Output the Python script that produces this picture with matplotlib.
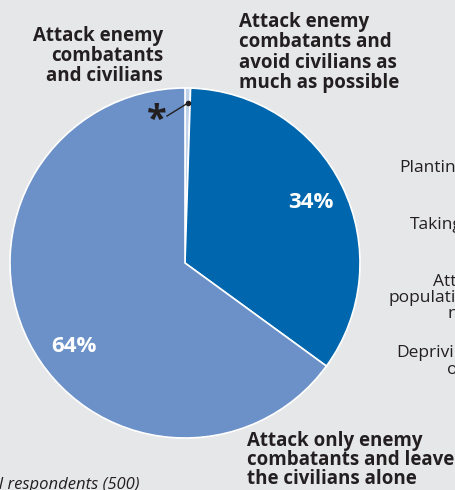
import matplotlib.pyplot as plt

# --- data ---
labels = ["Attack enemy\ncombatants\nand civilians",
          "Attack enemy\ncombatants and\navoid civilians as\nmuch as possible",
          "Attack only enemy\ncombatants and leave\nthe civilians alone"]
values = [0.5, 34, 64]
pct_text = ["", "34%", "64%"]
colors = ["#c0d1ea", "#0066ad", "#6b91c8"]

# cut-off labels from the neighbouring chart
side_labels = ["Planting", "Taking", "Attacking", "population", "n", "Depriving", "o"]
side_x = [399, 410, 433, 389, 448, 396, 447]
side_y = [168, 225, 282, 298, 314, 353, 370]

W, H = 456, 490
bg = "#e6e7e9"
ink = "#231f20"
plt.rcParams['font.family'] = ['Open Sans', 'DejaVu Sans']

fig = plt.figure(figsize=(W / 100, H / 100), dpi=100, facecolor=bg)
ax = fig.add_axes([0, 0, 1, 1])

cx, cy, r = 185, H - 263, 175
ax.pie(values, colors=colors, startangle=90, counterclock=False,
       center=(cx, cy), radius=r, frame=True,
       wedgeprops=dict(edgecolor="white", linewidth=1.2))
ax.set_xlim(0, W)
ax.set_ylim(0, H)
ax.set_aspect("equal")
ax.axis("off")

# percentage labels
ax.text(311, H - 203, pct_text[1], color="white", fontsize=16, fontweight="bold",
        ha="center", va="center")
ax.text(74, H - 346, pct_text[2], color="white", fontsize=16, fontweight="bold",
        ha="center", va="center")

# category labels
ax.text(163, H - 26, labels[0], fontsize=13.5, fontweight="bold", color=ink,
        ha="right", va="top", linespacing=1.0)
ax.text(239, H - 12, labels[1], fontsize=13.5, fontweight="bold", color=ink,
        ha="left", va="top", linespacing=1.03)
ax.text(247, H - 431, labels[2], fontsize=13.5, fontweight="bold", color=ink,
        ha="left", va="top", linespacing=0.95)

# asterisk marker for the tiny slice
ax.text(157, H - 121, "*", fontsize=26, fontweight="bold", color=ink,
        ha="center", va="center")
ax.plot([167, 188], [H - 116, H - 103], color=ink, linewidth=1)
ax.plot([188], [H - 103], "o", color=ink, markersize=3)

for s, x, y in zip(side_labels, side_x, side_y):
    ax.text(x, H - y, s, fontsize=12.5, color=ink, ha="left", va="center")

ax.text(140, H - 489, "Base: all respondents (500)", fontsize=12, style="italic",
        color=ink, ha="right", va="baseline")

fig.savefig("out.png", dpi=100, facecolor=bg)
